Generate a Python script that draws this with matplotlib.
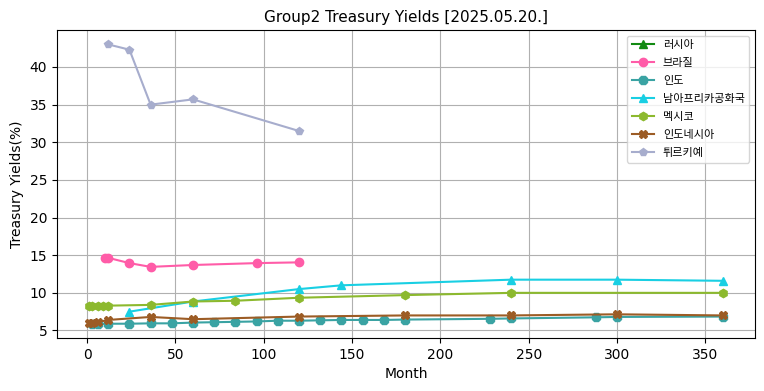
import numpy as np
import matplotlib
matplotlib.use('Agg')
import matplotlib.pyplot as plt

plt.rcParams['font.family'] = ['DejaVu Sans', 'Noto Sans CJK KR']

# series data (months, yields %)
names = ['러시아', '브라질', '인도', '남아프리카공화국', '멕시코', '인도네시아', '튀르키예']
colors = ['#128a12', '#ff5ca8', '#3aa3a3', '#19cfe3', '#8cb92e', '#9c5c25', '#a7adcd']
markers = ['^', 'o', '8', '^', 'h', 'X', 'p']

russia_m = []
russia_y = []
brazil_m = [10, 12, 24, 36, 60, 96, 120]
brazil_y = [14.65, 14.65, 13.95, 13.45, 13.7, 13.95, 14.05]
india_m = [3, 6, 12, 24, 36, 48, 60, 72, 84, 96, 108, 120, 132, 144, 156,
           168, 180, 228, 240, 288, 300, 360]
india_y = [5.85, 5.85, 5.9, 5.9, 5.95, 5.95, 6.05, 6.1, 6.15, 6.2, 6.3, 6.3,
           6.35, 6.4, 6.4, 6.4, 6.45, 6.55, 6.6, 6.75, 6.8, 6.85]
safrica_m = [24, 60, 120, 144, 240, 300, 360]
safrica_y = [7.5, 8.85, 10.5, 11.0, 11.75, 11.75, 11.6]
mexico_m = [1, 3, 6, 9, 12, 36, 60, 84, 120, 180, 240, 360]
mexico_y = [8.3, 8.3, 8.3, 8.3, 8.3, 8.4, 8.85, 8.95, 9.35, 9.7, 10.0, 10.0]
indonesia_m = [1, 3, 6, 12, 36, 60, 120, 180, 240, 300, 360]
indonesia_y = [6.0, 6.05, 6.1, 6.4, 6.8, 6.5, 6.85, 7.0, 7.0, 7.15, 7.0]
turkey_m = [12, 24, 36, 60, 120]
turkey_y = [43.0, 42.3, 35.0, 35.7, 31.5]

series = [(russia_m, russia_y), (brazil_m, brazil_y), (india_m, india_y),
          (safrica_m, safrica_y), (mexico_m, mexico_y),
          (indonesia_m, indonesia_y), (turkey_m, turkey_y)]

fig = plt.figure(figsize=(7.64, 3.91), dpi=100)
ax = fig.add_axes([0.0746, 0.1355, 0.9134, 0.7875])

for (m, y), name, c, mk in zip(series, names, colors, markers):
    ax.plot(m, y, marker=mk, color=c, label=name, linewidth=1.5, markersize=6)

ax.set_xlim(-17, 378)
ax.set_ylim(4.0, 44.9)
ax.set_xticks([0, 50, 100, 150, 200, 250, 300, 350])
ax.set_yticks([5, 10, 15, 20, 25, 30, 35, 40])
ax.grid(True)
ax.set_axisbelow(True)
ax.set_xlabel('Month')
ax.set_ylabel('Treasury Yields(%)')
ax.set_title('Group2 Treasury Yields [2025.05.20.]', fontsize=11)
ax.legend(loc='upper right', labelspacing=0.72,
          prop={'family': ['Noto Sans CJK KR', 'DejaVu Sans'], 'size': 8})

fig.savefig('out.png', dpi=100)
